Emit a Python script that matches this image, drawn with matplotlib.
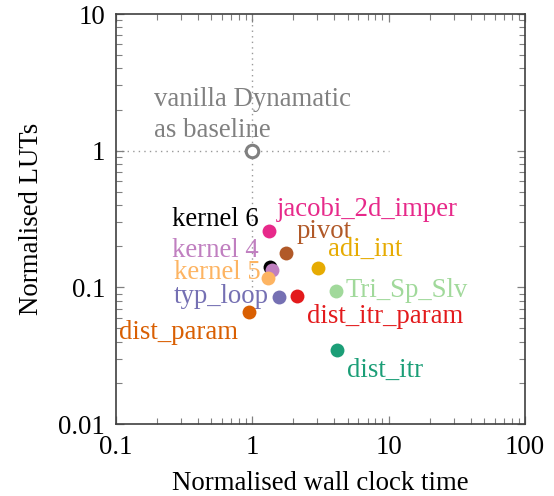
import matplotlib
matplotlib.use("Agg")
import matplotlib.pyplot as plt
from matplotlib.ticker import FixedLocator, FixedFormatter, LogLocator, NullFormatter

plt.rcParams['font.family'] = ['Liberation Serif', 'DejaVu Serif']

# ---- data ----
names = ["jacobi_2d_imper", "pivot", "kernel 6", "kernel 4", "kernel 5", "adi_int",
         "Tri_Sp_Slv", "typ_loop", "dist_itr_param", "dist_param", "dist_itr"]
wall_time = [1.33, 1.77, 1.35, 1.39, 1.31, 3.05, 4.11, 1.58, 2.14, 0.94, 4.16]
luts = [0.259, 0.179, 0.141, 0.134, 0.117, 0.138, 0.0946, 0.0855, 0.0865, 0.0664, 0.0348]
colors = ["#e7298a", "#b15928", "#000000", "#c07fc0", "#fdb462", "#e6ab02",
          "#a1d99b", "#7570b3", "#e31a1c", "#d95f02", "#1b9e77"]

baseline_x = [1.0]
baseline_y = [1.0]
baseline_label = "vanilla Dynamatic\nas baseline"
hline_x = [0.1, 10]
vline_y = [0.1, 10]

x_ticks = [0.1, 1, 10, 100]
x_tick_labels = ["0.1", "1", "10", "100"]
y_ticks = [0.01, 0.1, 1, 10]
y_tick_labels = ["0.01", "0.1", "1", "10"]

# label placement (offset in pixels, alignment)
label_style = [
    (8, 15, 'left'), (10, 15, 'left'), (-11, 41, 'right'), (-13, 13, 'right'),
    (-8, -1, 'right'), (10, 12, 'left'), (10, -6, 'left'), (-11, -6, 'right'),
    (10, -27, 'left'), (-11, -27, 'right'), (10, -27, 'left'),
]

fig = plt.figure(figsize=(5.54, 4.96), dpi=100)
ax = fig.add_axes([116/554, 72/496, 409/554, 410/496])
ax.set_xscale('log')
ax.set_yscale('log')
ax.set_xlim(0.1, 100)
ax.set_ylim(0.01, 10)

fs = 19.3

# dotted reference lines
ax.plot(hline_x, [baseline_y[0]] * 2, linestyle=(0, (1, 3)), color='#999999', lw=1.0, zorder=1)
ax.plot([baseline_x[0]] * 2, vline_y, linestyle=(0, (1, 3)), color='#999999', lw=1.0, zorder=1)

ax.plot(baseline_x, baseline_y, 'o', markersize=9, markerfacecolor='white',
        markeredgecolor='#808080', markeredgewidth=2.2, zorder=3)
ax.annotate(baseline_label, (baseline_x[0], baseline_y[0]), xytext=(-98, 14),
            textcoords='offset pixels', ha='left', va='baseline', color='#808080',
            fontsize=fs, linespacing=1.3)

for n, x, y, c, (dx, dy, ha) in zip(names, wall_time, luts, colors, label_style):
    ax.plot([x], [y], 'o', color=c, markersize=10, markeredgewidth=0, zorder=4)
    ax.annotate(n, (x, y), xytext=(dx, dy), textcoords='offset pixels',
                ha=ha, va='baseline', color=c, fontsize=fs)

ax.xaxis.set_major_locator(FixedLocator(x_ticks))
ax.xaxis.set_major_formatter(FixedFormatter(x_tick_labels))
ax.yaxis.set_major_locator(FixedLocator(y_ticks))
ax.yaxis.set_major_formatter(FixedFormatter(y_tick_labels))
ax.xaxis.set_minor_locator(LogLocator(base=10, subs=range(2, 10)))
ax.yaxis.set_minor_locator(LogLocator(base=10, subs=range(2, 10)))
ax.xaxis.set_minor_formatter(NullFormatter())
ax.yaxis.set_minor_formatter(NullFormatter())

ax.tick_params(which='both', direction='in', top=True, right=True, color='#808080',
               labelsize=fs, labelcolor='black')
ax.tick_params(which='major', length=6, width=0.9, pad=8)
ax.tick_params(which='minor', length=4, width=0.8)
for s in ax.spines.values():
    s.set_color('#404040')
    s.set_linewidth(1.2)

ax.set_xlabel("Normalised wall clock time", fontsize=fs, labelpad=8)
ax.set_ylabel("Normalised LUTs", fontsize=fs, labelpad=10)

fig.savefig("out.png", dpi=100)
